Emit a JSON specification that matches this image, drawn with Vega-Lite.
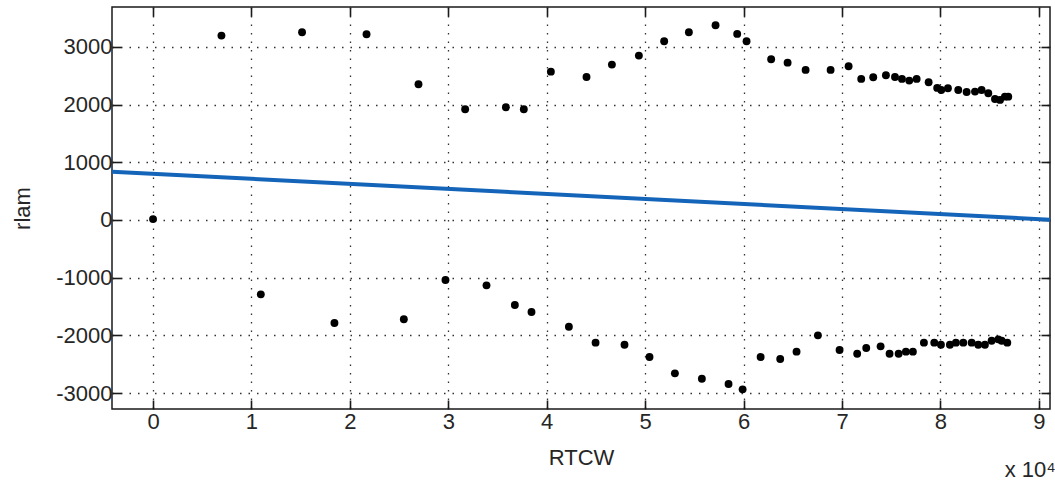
{
  "$schema": "https://vega.github.io/schema/vega-lite/v6.json",
  "width": 938,
  "height": 402,
  "autosize": {"type": "none"},
  "padding": {"left": 112, "top": 7, "right": 5, "bottom": 79},
  "background": "white",
  "config": {
    "font": "Liberation Sans",
    "view": {"stroke": "#1a1a1a", "strokeWidth": 1.5},
    "axis": {
      "labelFont": "Liberation Sans",
      "titleFont": "Liberation Sans",
      "labelFontSize": 22,
      "titleFontSize": 22,
      "titleFontWeight": "normal",
      "labelColor": "#262626",
      "titleColor": "#262626",
      "tickColor": "#1a1a1a",
      "tickWidth": 1.6,
      "domain": false,
      "gridColor": "#262626",
      "gridDash": [1.5, 7],
      "gridWidth": 1.3,
      "gridOpacity": 0.95
    }
  },
  "title": {
    "text": "x 10⁴",
    "orient": "bottom",
    "anchor": "end",
    "fontSize": 22,
    "font": "Liberation Sans",
    "fontWeight": "normal",
    "color": "#262626",
    "offset": -8,
    "dx": 5
  },
  "datasets": {
    "pts": [
      {"RTCW": 0, "rlam": 15},
      {"RTCW": 6950, "rlam": 3195},
      {"RTCW": 15140, "rlam": 3253},
      {"RTCW": 21690, "rlam": 3218},
      {"RTCW": 26970, "rlam": 2352},
      {"RTCW": 31710, "rlam": 1918},
      {"RTCW": 35850, "rlam": 1953},
      {"RTCW": 37670, "rlam": 1918},
      {"RTCW": 40420, "rlam": 2570},
      {"RTCW": 44040, "rlam": 2478},
      {"RTCW": 46620, "rlam": 2692},
      {"RTCW": 49360, "rlam": 2848},
      {"RTCW": 51930, "rlam": 3097},
      {"RTCW": 54440, "rlam": 3253},
      {"RTCW": 57150, "rlam": 3374},
      {"RTCW": 59350, "rlam": 3224},
      {"RTCW": 60300, "rlam": 3097},
      {"RTCW": 62800, "rlam": 2785},
      {"RTCW": 64470, "rlam": 2726},
      {"RTCW": 66300, "rlam": 2600},
      {"RTCW": 68840, "rlam": 2600},
      {"RTCW": 70670, "rlam": 2664},
      {"RTCW": 71950, "rlam": 2444},
      {"RTCW": 73170, "rlam": 2473},
      {"RTCW": 74460, "rlam": 2508},
      {"RTCW": 75380, "rlam": 2478},
      {"RTCW": 76090, "rlam": 2444},
      {"RTCW": 76830, "rlam": 2415},
      {"RTCW": 77580, "rlam": 2444},
      {"RTCW": 78800, "rlam": 2386},
      {"RTCW": 79670, "rlam": 2288},
      {"RTCW": 80080, "rlam": 2253},
      {"RTCW": 80760, "rlam": 2282},
      {"RTCW": 81810, "rlam": 2253},
      {"RTCW": 82660, "rlam": 2218},
      {"RTCW": 83510, "rlam": 2224},
      {"RTCW": 84180, "rlam": 2253},
      {"RTCW": 84860, "rlam": 2196},
      {"RTCW": 85540, "rlam": 2097},
      {"RTCW": 86050, "rlam": 2080},
      {"RTCW": 86550, "rlam": 2137},
      {"RTCW": 86890, "rlam": 2137},
      {"RTCW": 10950, "rlam": -1288},
      {"RTCW": 18430, "rlam": -1785},
      {"RTCW": 25480, "rlam": -1721},
      {"RTCW": 29710, "rlam": -1040},
      {"RTCW": 33880, "rlam": -1132},
      {"RTCW": 36760, "rlam": -1473},
      {"RTCW": 38450, "rlam": -1594},
      {"RTCW": 42250, "rlam": -1849},
      {"RTCW": 44960, "rlam": -2126},
      {"RTCW": 47900, "rlam": -2161},
      {"RTCW": 50440, "rlam": -2374},
      {"RTCW": 53020, "rlam": -2657},
      {"RTCW": 55760, "rlam": -2750},
      {"RTCW": 58470, "rlam": -2842},
      {"RTCW": 59900, "rlam": -2934},
      {"RTCW": 61730, "rlam": -2374},
      {"RTCW": 63720, "rlam": -2409},
      {"RTCW": 65380, "rlam": -2282},
      {"RTCW": 67550, "rlam": -1999},
      {"RTCW": 69750, "rlam": -2253},
      {"RTCW": 71540, "rlam": -2317},
      {"RTCW": 72460, "rlam": -2218},
      {"RTCW": 73920, "rlam": -2189},
      {"RTCW": 74830, "rlam": -2317},
      {"RTCW": 75750, "rlam": -2317},
      {"RTCW": 76490, "rlam": -2282},
      {"RTCW": 77200, "rlam": -2282},
      {"RTCW": 78320, "rlam": -2126},
      {"RTCW": 79370, "rlam": -2126},
      {"RTCW": 80050, "rlam": -2161},
      {"RTCW": 80960, "rlam": -2161},
      {"RTCW": 81570, "rlam": -2126},
      {"RTCW": 82320, "rlam": -2126},
      {"RTCW": 83170, "rlam": -2126},
      {"RTCW": 83840, "rlam": -2161},
      {"RTCW": 84520, "rlam": -2161},
      {"RTCW": 85200, "rlam": -2092},
      {"RTCW": 85880, "rlam": -2068},
      {"RTCW": 86220, "rlam": -2092},
      {"RTCW": 86790, "rlam": -2126}
    ],
    "fit": [
      {"RTCW": -4170, "rlam": 837},
      {"RTCW": 91130, "rlam": 5}
    ]
  },
  "layer": [
    {
      "data": {"name": "pts"},
      "mark": {"type": "point", "filled": true, "color": "black", "opacity": 1, "size": 62},
      "encoding": {
        "x": {
          "field": "RTCW",
          "type": "quantitative",
          "scale": {"domain": [-4170, 91130], "nice": false, "zero": false},
          "axis": {
            "orient": "bottom",
            "title": "RTCW",
            "values": [0, 10000, 20000, 30000, 40000, 50000, 60000, 70000, 80000, 90000],
            "labelExpr": "'' + (datum.value / 10000)",
            "tickSize": -9,
            "labelPadding": 11,
            "titlePadding": 15,
            "grid": true
          }
        },
        "y": {
          "field": "rlam",
          "type": "quantitative",
          "scale": {"domain": [-3275, 3690], "nice": false, "zero": false},
          "axis": {
            "orient": "left",
            "title": "rlam",
            "values": [-3000, -2000, -1000, 0, 1000, 2000, 3000],
            "labelExpr": "'' + datum.value",
            "tickSize": -9,
            "labelPadding": 9,
            "titlePadding": 21,
            "grid": true
          }
        }
      }
    },
    {
      "data": {"name": "fit"},
      "mark": {"type": "line", "color": "#1464b9", "strokeWidth": 4, "clip": true},
      "encoding": {
        "x": {
          "field": "RTCW",
          "type": "quantitative",
          "axis": {
            "orient": "top",
            "title": null,
            "labels": false,
            "values": [0, 10000, 20000, 30000, 40000, 50000, 60000, 70000, 80000, 90000],
            "tickSize": -9,
            "grid": false
          }
        },
        "y": {
          "field": "rlam",
          "type": "quantitative",
          "axis": {
            "orient": "right",
            "title": null,
            "labels": false,
            "values": [-3000, -2000, -1000, 0, 1000, 2000, 3000],
            "tickSize": -9,
            "grid": false
          }
        }
      }
    }
  ]
}
